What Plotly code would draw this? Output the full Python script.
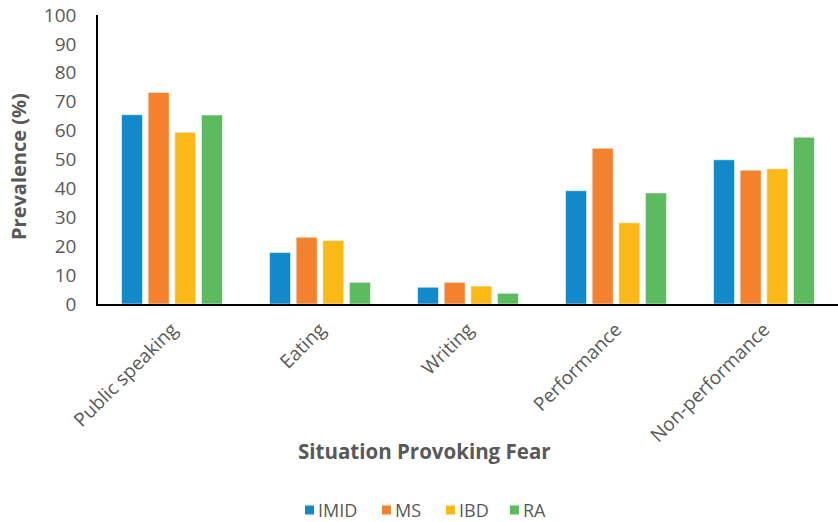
import plotly.graph_objects as go

categories = ["Public speaking", "Eating", "Writing", "Performance", "Non-performance"]
imid = [65.5, 17.8, 5.8, 39.2, 49.9]
ms = [73.2, 23.1, 7.5, 53.9, 46.3]
ibd = [59.4, 22.0, 6.2, 28.1, 46.8]
ra = [65.4, 7.5, 3.7, 38.4, 57.7]
y_ticks = list(range(0, 101, 10))

series = [
    ("IMID", imid, "#1289CB"),
    ("MS", ms, "#F4812E"),
    ("IBD", ibd, "#FBB918"),
    ("RA", ra, "#5CBB5F"),
]

GRAY = "#595959"
FONT = "Open Sans"

W, H = 838, 522
ML, MR, MT, MB = 98, 0, 15, 218
PW, PH = W - ML - MR, H - MT - MB


def px_x(px):
    return (px - ML) / PW


def px_y(py):
    return (H - MB - py) / PH


fig = go.Figure()
for name, vals, color in series:
    fig.add_trace(go.Bar(
        x=categories, y=vals, name=name,
        marker=dict(color=color, line=dict(color="rgba(255,255,255,0.55)", width=1)),
    ))

# legend row at the bottom: small colour square followed by the series name
legend_left = [305, 382, 446, 510]
legend_y = 510
sq = 9
shapes = []
annotations = []
for (name, _, color), left in zip(series, legend_left):
    shapes.append(dict(
        type="rect", xref="paper", yref="paper",
        x0=px_x(left), x1=px_x(left + sq),
        y0=px_y(legend_y + sq / 2), y1=px_y(legend_y - sq / 2),
        fillcolor=color, line=dict(width=0),
    ))
    annotations.append(dict(
        text=name, xref="paper", yref="paper",
        x=px_x(left + sq + 2), y=px_y(legend_y), xanchor="left", yanchor="middle",
        showarrow=False, font=dict(size=18, color=GRAY, family=FONT),
    ))

annotations += [
    dict(text="<b>Situation Provoking Fear</b>", xref="paper", yref="paper",
         x=px_x(424), y=px_y(451), xanchor="center", yanchor="middle", showarrow=False,
         font=dict(size=20.5, color=GRAY, family=FONT)),
    dict(text="<b>Prevalence (%)</b>", xref="paper", yref="paper",
         x=px_x(18), y=px_y(167), xanchor="center", yanchor="middle", showarrow=False,
         textangle=-90, font=dict(size=20, color=GRAY, family=FONT)),
]

fig.update_layout(
    width=W, height=H,
    margin=dict(l=ML, r=MR, t=MT, b=MB),
    paper_bgcolor="white", plot_bgcolor="white",
    barmode="group", bargap=0.28, bargroupgap=0.21,
    font=dict(family=FONT, color=GRAY),
    showlegend=False,
    xaxis=dict(
        showline=True, linecolor="#000000", linewidth=2,
        showgrid=False, ticks="", tickangle=-45, automargin=False,
        ticklabelstandoff=5,
        tickfont=dict(size=19, color=GRAY, family=FONT),
    ),
    yaxis=dict(
        range=[0, 100], tickvals=y_ticks,
        showline=True, linecolor="#000000", linewidth=1.5,
        showgrid=False, zeroline=False, ticks="", automargin=False,
        ticklabelstandoff=16,
        tickfont=dict(size=19, color=GRAY, family=FONT),
    ),
    shapes=shapes,
    annotations=annotations,
)

fig.write_html("out.html")
